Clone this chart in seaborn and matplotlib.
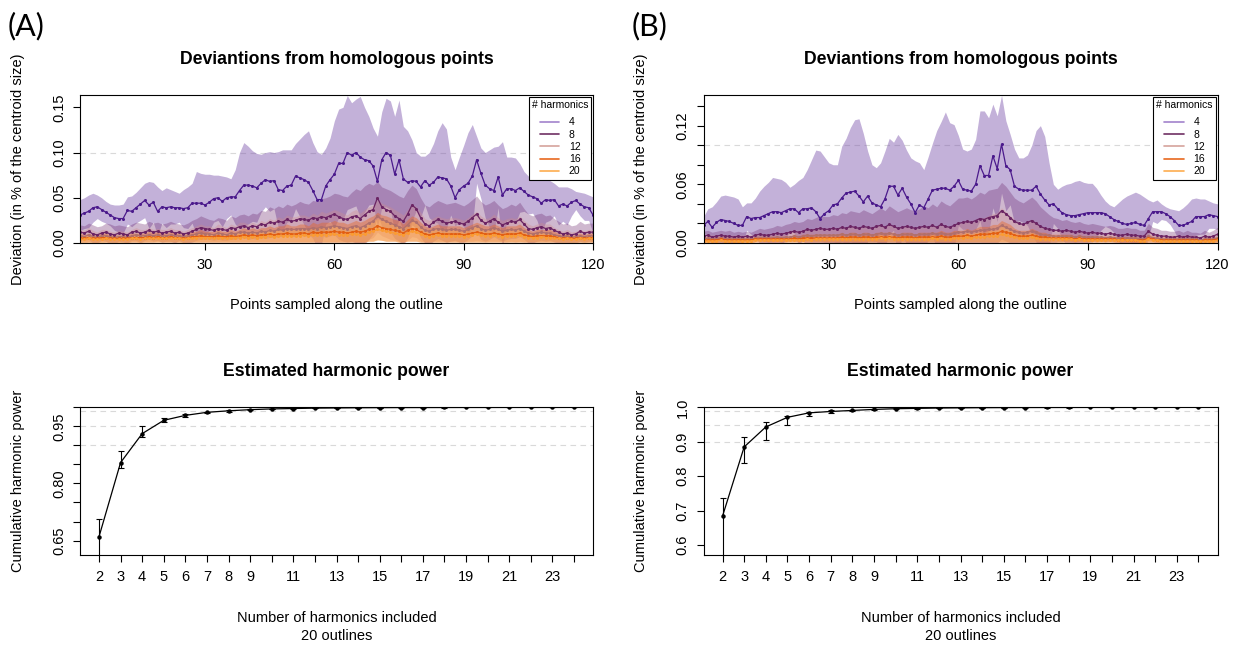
import numpy as np
import matplotlib
matplotlib.use("Agg")
import matplotlib.pyplot as plt
from matplotlib.lines import Line2D
import seaborn as sns

# ---------------- data ----------------
points = list(range(1, 121))
harmonic_levels = ["4", "8", "12", "16", "20"]

# Panel A: mean deviation and upper band edge (mean + sd) per number of harmonics
a_h4_mean = [
    0.031, 0.033, 0.035, 0.039, 0.040, 0.037, 0.034, 0.031, 0.028, 0.027,
    0.027, 0.036, 0.035, 0.039, 0.043, 0.047, 0.042, 0.045, 0.035, 0.040,
    0.039, 0.040, 0.039, 0.039, 0.038, 0.039, 0.044, 0.044, 0.044, 0.042,
    0.045, 0.049, 0.050, 0.046, 0.050, 0.051, 0.051, 0.058, 0.064, 0.064,
    0.063, 0.061, 0.066, 0.070, 0.068, 0.069, 0.059, 0.058, 0.063, 0.064,
    0.074, 0.072, 0.070, 0.067, 0.058, 0.048, 0.048, 0.063, 0.070, 0.076,
    0.088, 0.088, 0.100, 0.097, 0.100, 0.095, 0.092, 0.091, 0.085, 0.068,
    0.092, 0.100, 0.097, 0.076, 0.092, 0.071, 0.067, 0.069, 0.068, 0.062,
    0.069, 0.064, 0.067, 0.073, 0.072, 0.071, 0.063, 0.050, 0.059, 0.063,
    0.066, 0.074, 0.092, 0.077, 0.064, 0.060, 0.058, 0.073, 0.053, 0.060,
    0.060, 0.058, 0.061, 0.057, 0.053, 0.051, 0.049, 0.044, 0.048, 0.047,
    0.048, 0.041, 0.043, 0.041, 0.045, 0.047, 0.043, 0.040, 0.039, 0.031]
a_h4_upper = [
    0.048, 0.050, 0.053, 0.055, 0.053, 0.050, 0.046, 0.043, 0.042, 0.042,
    0.043, 0.051, 0.052, 0.056, 0.061, 0.066, 0.068, 0.067, 0.062, 0.058,
    0.061, 0.059, 0.057, 0.055, 0.059, 0.062, 0.066, 0.079, 0.077, 0.076,
    0.076, 0.075, 0.075, 0.074, 0.073, 0.071, 0.081, 0.100, 0.111, 0.107,
    0.102, 0.099, 0.098, 0.100, 0.101, 0.100, 0.101, 0.103, 0.103, 0.103,
    0.110, 0.115, 0.120, 0.124, 0.111, 0.101, 0.098, 0.105, 0.116, 0.135,
    0.148, 0.150, 0.163, 0.155, 0.159, 0.162, 0.150, 0.140, 0.127, 0.118,
    0.145, 0.160, 0.157, 0.140, 0.158, 0.129, 0.124, 0.114, 0.100, 0.096,
    0.096, 0.100, 0.110, 0.124, 0.133, 0.126, 0.095, 0.081, 0.095, 0.108,
    0.122, 0.131, 0.118, 0.105, 0.100, 0.103, 0.106, 0.107, 0.112, 0.095,
    0.095, 0.094, 0.088, 0.079, 0.074, 0.069, 0.073, 0.077, 0.073, 0.069,
    0.066, 0.062, 0.062, 0.062, 0.060, 0.057, 0.056, 0.055, 0.053, 0.051]
a_h8_mean = [
    0.012, 0.011, 0.013, 0.010, 0.009, 0.011, 0.012, 0.010, 0.009, 0.011,
    0.010, 0.009, 0.012, 0.013, 0.011, 0.012, 0.014, 0.012, 0.013, 0.011,
    0.012, 0.013, 0.011, 0.012, 0.010, 0.011, 0.013, 0.015, 0.017, 0.016,
    0.015, 0.014, 0.016, 0.015, 0.014, 0.017, 0.016, 0.018, 0.019, 0.017,
    0.019, 0.018, 0.021, 0.020, 0.023, 0.022, 0.024, 0.023, 0.026, 0.024,
    0.025, 0.027, 0.026, 0.025, 0.028, 0.027, 0.029, 0.028, 0.030, 0.032,
    0.029, 0.027, 0.026, 0.029, 0.030, 0.027, 0.031, 0.035, 0.037, 0.050,
    0.040, 0.037, 0.035, 0.030, 0.027, 0.024, 0.032, 0.042, 0.038, 0.028,
    0.021, 0.019, 0.023, 0.026, 0.024, 0.022, 0.023, 0.024, 0.022, 0.021,
    0.024, 0.028, 0.032, 0.025, 0.022, 0.024, 0.027, 0.023, 0.020, 0.022,
    0.024, 0.023, 0.026, 0.021, 0.016, 0.015, 0.017, 0.018, 0.016, 0.017,
    0.014, 0.012, 0.010, 0.011, 0.009, 0.010, 0.013, 0.011, 0.012, 0.012]
a_h8_upper = [
    0.020, 0.019, 0.022, 0.020, 0.018, 0.019, 0.022, 0.021, 0.019, 0.020,
    0.019, 0.018, 0.021, 0.023, 0.022, 0.021, 0.024, 0.022, 0.023, 0.021,
    0.022, 0.024, 0.022, 0.021, 0.020, 0.022, 0.025, 0.027, 0.030, 0.028,
    0.026, 0.025, 0.028, 0.027, 0.025, 0.030, 0.028, 0.031, 0.032, 0.030,
    0.033, 0.032, 0.036, 0.035, 0.040, 0.038, 0.041, 0.039, 0.043, 0.041,
    0.043, 0.046, 0.044, 0.043, 0.047, 0.046, 0.049, 0.050, 0.052, 0.055,
    0.054, 0.052, 0.051, 0.056, 0.060, 0.058, 0.063, 0.066, 0.064, 0.068,
    0.062, 0.060, 0.058, 0.055, 0.052, 0.050, 0.058, 0.064, 0.060, 0.050,
    0.042, 0.040, 0.044, 0.047, 0.045, 0.043, 0.044, 0.045, 0.043, 0.041,
    0.044, 0.048, 0.052, 0.046, 0.042, 0.044, 0.047, 0.042, 0.038, 0.040,
    0.043, 0.041, 0.045, 0.038, 0.032, 0.030, 0.032, 0.033, 0.030, 0.031,
    0.027, 0.024, 0.021, 0.022, 0.019, 0.020, 0.024, 0.021, 0.022, 0.022]
a_h12_mean = [
    0.008, 0.007, 0.009, 0.007, 0.006, 0.008, 0.008, 0.007, 0.006, 0.007,
    0.007, 0.006, 0.008, 0.009, 0.008, 0.008, 0.009, 0.008, 0.009, 0.008,
    0.008, 0.009, 0.008, 0.008, 0.007, 0.008, 0.009, 0.010, 0.011, 0.010,
    0.010, 0.009, 0.011, 0.010, 0.009, 0.011, 0.010, 0.012, 0.012, 0.011,
    0.012, 0.011, 0.013, 0.012, 0.014, 0.013, 0.015, 0.014, 0.016, 0.015,
    0.015, 0.016, 0.016, 0.015, 0.017, 0.016, 0.018, 0.017, 0.018, 0.019,
    0.018, 0.017, 0.016, 0.018, 0.019, 0.017, 0.019, 0.022, 0.024, 0.030,
    0.026, 0.024, 0.022, 0.020, 0.018, 0.016, 0.020, 0.025, 0.023, 0.018,
    0.014, 0.013, 0.015, 0.016, 0.015, 0.014, 0.015, 0.015, 0.014, 0.013,
    0.015, 0.017, 0.019, 0.016, 0.014, 0.015, 0.017, 0.015, 0.013, 0.014,
    0.015, 0.014, 0.016, 0.013, 0.011, 0.010, 0.011, 0.012, 0.011, 0.011,
    0.009, 0.008, 0.007, 0.008, 0.006, 0.007, 0.008, 0.007, 0.008, 0.008]
a_h12_upper = [
    0.015, 0.014, 0.017, 0.014, 0.012, 0.015, 0.015, 0.013, 0.012, 0.014,
    0.013, 0.012, 0.015, 0.017, 0.015, 0.015, 0.017, 0.015, 0.016, 0.015,
    0.015, 0.017, 0.015, 0.015, 0.013, 0.015, 0.017, 0.019, 0.021, 0.019,
    0.019, 0.017, 0.021, 0.019, 0.017, 0.021, 0.019, 0.023, 0.023, 0.021,
    0.023, 0.021, 0.025, 0.023, 0.027, 0.025, 0.029, 0.027, 0.031, 0.029,
    0.029, 0.031, 0.031, 0.029, 0.033, 0.031, 0.035, 0.033, 0.035, 0.037,
    0.035, 0.033, 0.031, 0.035, 0.037, 0.033, 0.037, 0.040, 0.042, 0.048,
    0.044, 0.042, 0.040, 0.037, 0.034, 0.031, 0.037, 0.043, 0.040, 0.034,
    0.027, 0.025, 0.028, 0.030, 0.028, 0.027, 0.028, 0.028, 0.027, 0.025,
    0.028, 0.032, 0.035, 0.030, 0.027, 0.028, 0.032, 0.028, 0.025, 0.027,
    0.028, 0.027, 0.030, 0.025, 0.021, 0.019, 0.021, 0.023, 0.021, 0.021,
    0.017, 0.015, 0.013, 0.015, 0.012, 0.013, 0.015, 0.013, 0.015, 0.015]
a_h16_mean = [
    0.006, 0.005, 0.006, 0.005, 0.005, 0.006, 0.006, 0.005, 0.005, 0.005,
    0.005, 0.005, 0.006, 0.006, 0.006, 0.006, 0.007, 0.006, 0.007, 0.006,
    0.006, 0.007, 0.006, 0.006, 0.005, 0.006, 0.007, 0.007, 0.008, 0.007,
    0.007, 0.007, 0.008, 0.007, 0.007, 0.008, 0.007, 0.008, 0.009, 0.008,
    0.009, 0.008, 0.009, 0.009, 0.010, 0.009, 0.010, 0.010, 0.011, 0.010,
    0.010, 0.011, 0.011, 0.010, 0.012, 0.011, 0.012, 0.012, 0.012, 0.013,
    0.012, 0.012, 0.011, 0.012, 0.013, 0.012, 0.013, 0.015, 0.016, 0.019,
    0.017, 0.016, 0.015, 0.014, 0.013, 0.011, 0.014, 0.016, 0.015, 0.012,
    0.010, 0.009, 0.010, 0.011, 0.010, 0.010, 0.010, 0.010, 0.010, 0.009,
    0.010, 0.011, 0.012, 0.011, 0.010, 0.010, 0.011, 0.010, 0.009, 0.010,
    0.010, 0.010, 0.011, 0.009, 0.008, 0.007, 0.008, 0.008, 0.008, 0.008,
    0.007, 0.006, 0.005, 0.006, 0.005, 0.005, 0.006, 0.005, 0.006, 0.006]
a_h16_upper = [
    0.011, 0.009, 0.011, 0.009, 0.009, 0.011, 0.011, 0.009, 0.009, 0.009,
    0.009, 0.009, 0.011, 0.011, 0.011, 0.011, 0.013, 0.011, 0.013, 0.011,
    0.011, 0.013, 0.011, 0.011, 0.009, 0.011, 0.013, 0.013, 0.015, 0.013,
    0.013, 0.013, 0.015, 0.013, 0.013, 0.015, 0.013, 0.015, 0.017, 0.015,
    0.017, 0.015, 0.017, 0.017, 0.019, 0.017, 0.019, 0.019, 0.021, 0.019,
    0.019, 0.021, 0.021, 0.019, 0.023, 0.021, 0.023, 0.023, 0.023, 0.025,
    0.023, 0.023, 0.021, 0.023, 0.025, 0.023, 0.025, 0.028, 0.030, 0.034,
    0.031, 0.030, 0.028, 0.026, 0.025, 0.021, 0.026, 0.030, 0.028, 0.023,
    0.019, 0.017, 0.019, 0.021, 0.019, 0.019, 0.019, 0.019, 0.019, 0.017,
    0.019, 0.021, 0.023, 0.021, 0.019, 0.019, 0.021, 0.019, 0.017, 0.019,
    0.019, 0.019, 0.021, 0.017, 0.015, 0.013, 0.015, 0.015, 0.015, 0.015,
    0.013, 0.011, 0.009, 0.011, 0.009, 0.009, 0.011, 0.009, 0.011, 0.011]
a_h20_mean = [
    0.004, 0.004, 0.005, 0.004, 0.004, 0.004, 0.005, 0.004, 0.004, 0.004,
    0.004, 0.004, 0.005, 0.005, 0.004, 0.005, 0.005, 0.005, 0.005, 0.005,
    0.005, 0.005, 0.005, 0.005, 0.004, 0.005, 0.005, 0.006, 0.006, 0.006,
    0.006, 0.005, 0.006, 0.006, 0.005, 0.006, 0.006, 0.006, 0.007, 0.006,
    0.007, 0.006, 0.007, 0.007, 0.008, 0.007, 0.008, 0.008, 0.008, 0.008,
    0.008, 0.008, 0.009, 0.008, 0.009, 0.009, 0.009, 0.009, 0.010, 0.010,
    0.009, 0.009, 0.009, 0.010, 0.010, 0.009, 0.010, 0.012, 0.013, 0.015,
    0.014, 0.013, 0.012, 0.011, 0.010, 0.009, 0.011, 0.013, 0.012, 0.010,
    0.008, 0.007, 0.008, 0.009, 0.008, 0.008, 0.008, 0.008, 0.008, 0.007,
    0.008, 0.009, 0.010, 0.009, 0.008, 0.008, 0.009, 0.008, 0.007, 0.008,
    0.008, 0.008, 0.009, 0.007, 0.006, 0.006, 0.006, 0.007, 0.006, 0.006,
    0.005, 0.005, 0.004, 0.005, 0.004, 0.004, 0.005, 0.004, 0.005, 0.005]
a_h20_upper = [
    0.008, 0.008, 0.009, 0.008, 0.008, 0.008, 0.009, 0.008, 0.008, 0.008,
    0.008, 0.008, 0.009, 0.009, 0.008, 0.009, 0.009, 0.009, 0.009, 0.009,
    0.009, 0.009, 0.009, 0.009, 0.008, 0.009, 0.009, 0.011, 0.011, 0.011,
    0.011, 0.009, 0.011, 0.011, 0.009, 0.011, 0.011, 0.011, 0.013, 0.011,
    0.013, 0.011, 0.013, 0.013, 0.015, 0.013, 0.015, 0.015, 0.015, 0.015,
    0.015, 0.015, 0.017, 0.015, 0.017, 0.017, 0.017, 0.017, 0.019, 0.019,
    0.017, 0.017, 0.017, 0.019, 0.019, 0.017, 0.019, 0.022, 0.024, 0.027,
    0.025, 0.024, 0.022, 0.020, 0.019, 0.017, 0.020, 0.024, 0.022, 0.019,
    0.015, 0.013, 0.015, 0.017, 0.015, 0.015, 0.015, 0.015, 0.015, 0.013,
    0.015, 0.017, 0.019, 0.017, 0.015, 0.015, 0.017, 0.015, 0.013, 0.015,
    0.015, 0.015, 0.017, 0.013, 0.011, 0.011, 0.011, 0.013, 0.011, 0.011,
    0.009, 0.009, 0.008, 0.009, 0.008, 0.008, 0.009, 0.008, 0.009, 0.009]

# Panel B
b_h4_mean = [
    0.018, 0.022, 0.016, 0.021, 0.024, 0.023, 0.022, 0.020, 0.018, 0.018,
    0.027, 0.025, 0.026, 0.026, 0.028, 0.030, 0.032, 0.032, 0.031, 0.033,
    0.035, 0.035, 0.031, 0.035, 0.035, 0.036, 0.032, 0.025, 0.030, 0.033,
    0.039, 0.040, 0.046, 0.051, 0.052, 0.053, 0.048, 0.042, 0.048, 0.041,
    0.039, 0.037, 0.045, 0.058, 0.058, 0.049, 0.056, 0.047, 0.040, 0.031,
    0.039, 0.036, 0.045, 0.054, 0.055, 0.056, 0.056, 0.054, 0.058, 0.064,
    0.055, 0.054, 0.053, 0.060, 0.079, 0.069, 0.069, 0.089, 0.076, 0.101,
    0.079, 0.075, 0.058, 0.055, 0.054, 0.054, 0.054, 0.058, 0.050, 0.044,
    0.039, 0.040, 0.035, 0.031, 0.029, 0.028, 0.028, 0.029, 0.030, 0.031,
    0.031, 0.031, 0.031, 0.030, 0.027, 0.024, 0.022, 0.020, 0.019, 0.020,
    0.021, 0.019, 0.018, 0.025, 0.032, 0.032, 0.032, 0.030, 0.027, 0.023,
    0.018, 0.018, 0.020, 0.022, 0.027, 0.027, 0.027, 0.029, 0.028, 0.027]
b_h4_upper = [
    0.027, 0.035, 0.037, 0.042, 0.048, 0.049, 0.048, 0.047, 0.045, 0.037,
    0.041, 0.041, 0.046, 0.053, 0.058, 0.062, 0.067, 0.066, 0.065, 0.062,
    0.057, 0.060, 0.064, 0.067, 0.075, 0.085, 0.095, 0.094, 0.088, 0.082,
    0.080, 0.080, 0.099, 0.107, 0.118, 0.126, 0.127, 0.112, 0.094, 0.080,
    0.077, 0.082, 0.094, 0.107, 0.103, 0.111, 0.105, 0.095, 0.087, 0.084,
    0.082, 0.075, 0.088, 0.102, 0.115, 0.124, 0.134, 0.123, 0.121, 0.110,
    0.096, 0.094, 0.096, 0.106, 0.135, 0.135, 0.128, 0.142, 0.130, 0.151,
    0.125, 0.111, 0.096, 0.087, 0.087, 0.090, 0.100, 0.115, 0.120, 0.109,
    0.082, 0.060, 0.055, 0.058, 0.060, 0.061, 0.063, 0.064, 0.062, 0.061,
    0.061, 0.056, 0.049, 0.043, 0.039, 0.037, 0.041, 0.045, 0.048, 0.050,
    0.052, 0.050, 0.047, 0.044, 0.042, 0.044, 0.040, 0.037, 0.035, 0.034,
    0.033, 0.036, 0.040, 0.045, 0.046, 0.045, 0.045, 0.043, 0.041, 0.040]
b_h8_mean = [
    0.007, 0.008, 0.006, 0.007, 0.008, 0.007, 0.007, 0.006, 0.007, 0.006,
    0.007, 0.006, 0.008, 0.009, 0.008, 0.008, 0.009, 0.010, 0.009, 0.010,
    0.011, 0.012, 0.011, 0.012, 0.014, 0.013, 0.014, 0.015, 0.014, 0.014,
    0.015, 0.014, 0.016, 0.015, 0.017, 0.016, 0.015, 0.017, 0.016, 0.015,
    0.017, 0.018, 0.016, 0.019, 0.017, 0.015, 0.016, 0.017, 0.016, 0.015,
    0.016, 0.017, 0.016, 0.018, 0.016, 0.019, 0.017, 0.016, 0.018, 0.020,
    0.021, 0.022, 0.021, 0.023, 0.025, 0.024, 0.026, 0.027, 0.028, 0.033,
    0.030, 0.026, 0.022, 0.020, 0.019, 0.021, 0.023, 0.020, 0.017, 0.015,
    0.014, 0.013, 0.013, 0.012, 0.013, 0.012, 0.011, 0.012, 0.011, 0.010,
    0.011, 0.010, 0.010, 0.009, 0.010, 0.009, 0.008, 0.008, 0.009, 0.008,
    0.008, 0.007, 0.007, 0.012, 0.009, 0.008, 0.007, 0.007, 0.006, 0.006,
    0.007, 0.006, 0.007, 0.006, 0.006, 0.005, 0.007, 0.006, 0.007, 0.009]
b_h8_upper = [
    0.012, 0.013, 0.011, 0.012, 0.013, 0.012, 0.013, 0.011, 0.012, 0.011,
    0.012, 0.011, 0.013, 0.015, 0.014, 0.015, 0.016, 0.018, 0.017, 0.019,
    0.020, 0.022, 0.021, 0.022, 0.025, 0.024, 0.026, 0.028, 0.027, 0.027,
    0.029, 0.028, 0.031, 0.030, 0.033, 0.032, 0.031, 0.034, 0.032, 0.030,
    0.033, 0.036, 0.033, 0.038, 0.035, 0.032, 0.034, 0.036, 0.034, 0.033,
    0.035, 0.038, 0.036, 0.040, 0.037, 0.043, 0.040, 0.038, 0.042, 0.046,
    0.046, 0.047, 0.045, 0.048, 0.052, 0.050, 0.054, 0.055, 0.056, 0.062,
    0.058, 0.052, 0.046, 0.043, 0.041, 0.044, 0.047, 0.043, 0.037, 0.033,
    0.029, 0.026, 0.025, 0.023, 0.024, 0.022, 0.021, 0.022, 0.020, 0.019,
    0.020, 0.019, 0.018, 0.017, 0.018, 0.017, 0.015, 0.015, 0.016, 0.015,
    0.015, 0.013, 0.013, 0.020, 0.016, 0.015, 0.013, 0.013, 0.012, 0.012,
    0.013, 0.011, 0.013, 0.011, 0.011, 0.010, 0.013, 0.011, 0.013, 0.016]
b_h12_mean = [
    0.004, 0.005, 0.004, 0.004, 0.005, 0.004, 0.004, 0.004, 0.004, 0.004,
    0.004, 0.004, 0.005, 0.005, 0.005, 0.005, 0.005, 0.006, 0.005, 0.006,
    0.006, 0.007, 0.006, 0.007, 0.008, 0.007, 0.008, 0.008, 0.008, 0.008,
    0.008, 0.008, 0.009, 0.008, 0.009, 0.009, 0.008, 0.009, 0.009, 0.008,
    0.009, 0.010, 0.009, 0.010, 0.009, 0.008, 0.009, 0.009, 0.009, 0.008,
    0.009, 0.009, 0.009, 0.010, 0.009, 0.010, 0.009, 0.009, 0.010, 0.011,
    0.011, 0.012, 0.011, 0.012, 0.013, 0.013, 0.014, 0.014, 0.015, 0.018,
    0.016, 0.014, 0.012, 0.011, 0.010, 0.011, 0.012, 0.011, 0.009, 0.008,
    0.008, 0.007, 0.007, 0.007, 0.007, 0.007, 0.006, 0.007, 0.006, 0.006,
    0.006, 0.006, 0.006, 0.005, 0.006, 0.005, 0.005, 0.005, 0.005, 0.005,
    0.005, 0.004, 0.004, 0.007, 0.005, 0.005, 0.004, 0.004, 0.004, 0.004,
    0.004, 0.004, 0.004, 0.004, 0.004, 0.003, 0.004, 0.004, 0.004, 0.005]
b_h12_upper = [
    0.008, 0.009, 0.008, 0.008, 0.009, 0.008, 0.008, 0.008, 0.008, 0.008,
    0.008, 0.008, 0.009, 0.009, 0.009, 0.009, 0.010, 0.011, 0.010, 0.011,
    0.011, 0.013, 0.011, 0.013, 0.015, 0.013, 0.015, 0.015, 0.015, 0.015,
    0.015, 0.015, 0.017, 0.015, 0.017, 0.017, 0.015, 0.017, 0.017, 0.015,
    0.017, 0.019, 0.017, 0.019, 0.017, 0.015, 0.017, 0.017, 0.017, 0.015,
    0.017, 0.017, 0.017, 0.019, 0.017, 0.019, 0.017, 0.017, 0.019, 0.021,
    0.021, 0.023, 0.021, 0.023, 0.025, 0.026, 0.028, 0.030, 0.031, 0.036,
    0.032, 0.028, 0.024, 0.021, 0.019, 0.021, 0.023, 0.021, 0.017, 0.015,
    0.015, 0.013, 0.013, 0.013, 0.013, 0.013, 0.011, 0.013, 0.011, 0.011,
    0.011, 0.011, 0.011, 0.009, 0.011, 0.009, 0.009, 0.009, 0.009, 0.009,
    0.009, 0.008, 0.008, 0.014, 0.010, 0.009, 0.008, 0.008, 0.008, 0.008,
    0.008, 0.008, 0.008, 0.008, 0.008, 0.006, 0.008, 0.008, 0.008, 0.010]
b_h16_mean = [
    0.003, 0.003, 0.003, 0.003, 0.004, 0.003, 0.003, 0.003, 0.003, 0.003,
    0.003, 0.003, 0.004, 0.004, 0.004, 0.004, 0.004, 0.004, 0.004, 0.004,
    0.004, 0.005, 0.004, 0.005, 0.005, 0.005, 0.005, 0.005, 0.005, 0.005,
    0.005, 0.005, 0.006, 0.005, 0.006, 0.006, 0.005, 0.006, 0.006, 0.005,
    0.006, 0.006, 0.006, 0.006, 0.006, 0.005, 0.006, 0.006, 0.006, 0.005,
    0.006, 0.006, 0.006, 0.006, 0.006, 0.007, 0.006, 0.006, 0.007, 0.007,
    0.007, 0.008, 0.007, 0.008, 0.009, 0.009, 0.009, 0.010, 0.010, 0.012,
    0.011, 0.010, 0.008, 0.007, 0.007, 0.007, 0.008, 0.007, 0.006, 0.006,
    0.005, 0.005, 0.005, 0.005, 0.005, 0.005, 0.004, 0.005, 0.004, 0.004,
    0.004, 0.004, 0.004, 0.004, 0.004, 0.004, 0.003, 0.004, 0.003, 0.003,
    0.003, 0.003, 0.003, 0.005, 0.004, 0.003, 0.003, 0.003, 0.003, 0.003,
    0.003, 0.003, 0.003, 0.003, 0.003, 0.002, 0.003, 0.003, 0.003, 0.004]
b_h16_upper = [
    0.006, 0.006, 0.006, 0.006, 0.007, 0.006, 0.006, 0.006, 0.006, 0.006,
    0.006, 0.006, 0.007, 0.007, 0.007, 0.007, 0.007, 0.007, 0.007, 0.007,
    0.007, 0.009, 0.007, 0.009, 0.009, 0.009, 0.009, 0.009, 0.009, 0.009,
    0.009, 0.009, 0.011, 0.009, 0.011, 0.011, 0.009, 0.011, 0.011, 0.009,
    0.011, 0.011, 0.011, 0.011, 0.011, 0.009, 0.011, 0.011, 0.011, 0.009,
    0.011, 0.011, 0.011, 0.011, 0.011, 0.013, 0.011, 0.011, 0.013, 0.013,
    0.013, 0.015, 0.013, 0.015, 0.017, 0.017, 0.017, 0.019, 0.019, 0.023,
    0.021, 0.019, 0.015, 0.013, 0.013, 0.013, 0.015, 0.013, 0.011, 0.011,
    0.009, 0.009, 0.009, 0.009, 0.009, 0.009, 0.007, 0.009, 0.007, 0.007,
    0.007, 0.007, 0.007, 0.007, 0.007, 0.007, 0.006, 0.007, 0.006, 0.006,
    0.006, 0.006, 0.006, 0.009, 0.007, 0.006, 0.006, 0.006, 0.006, 0.006,
    0.006, 0.006, 0.006, 0.006, 0.006, 0.004, 0.006, 0.006, 0.006, 0.007]
b_h20_mean = [
    0.002, 0.002, 0.002, 0.002, 0.003, 0.002, 0.002, 0.002, 0.002, 0.002,
    0.002, 0.002, 0.003, 0.003, 0.003, 0.003, 0.003, 0.003, 0.003, 0.003,
    0.003, 0.003, 0.003, 0.003, 0.004, 0.003, 0.004, 0.004, 0.004, 0.004,
    0.004, 0.004, 0.004, 0.004, 0.004, 0.004, 0.004, 0.004, 0.004, 0.004,
    0.004, 0.005, 0.004, 0.005, 0.004, 0.004, 0.004, 0.004, 0.004, 0.004,
    0.004, 0.004, 0.004, 0.005, 0.004, 0.005, 0.004, 0.004, 0.005, 0.005,
    0.005, 0.006, 0.005, 0.006, 0.006, 0.006, 0.007, 0.007, 0.007, 0.009,
    0.008, 0.007, 0.006, 0.005, 0.005, 0.005, 0.006, 0.005, 0.004, 0.004,
    0.004, 0.004, 0.004, 0.004, 0.004, 0.004, 0.003, 0.004, 0.003, 0.003,
    0.003, 0.003, 0.003, 0.003, 0.003, 0.003, 0.003, 0.003, 0.003, 0.003,
    0.003, 0.002, 0.002, 0.004, 0.003, 0.003, 0.002, 0.002, 0.002, 0.002,
    0.002, 0.002, 0.002, 0.002, 0.002, 0.002, 0.002, 0.002, 0.002, 0.003]
b_h20_upper = [
    0.004, 0.004, 0.004, 0.004, 0.005, 0.004, 0.004, 0.004, 0.004, 0.004,
    0.004, 0.004, 0.005, 0.005, 0.005, 0.005, 0.005, 0.005, 0.005, 0.005,
    0.005, 0.005, 0.005, 0.005, 0.007, 0.005, 0.007, 0.007, 0.007, 0.007,
    0.007, 0.007, 0.007, 0.007, 0.007, 0.007, 0.007, 0.007, 0.007, 0.007,
    0.007, 0.009, 0.007, 0.009, 0.007, 0.007, 0.007, 0.007, 0.007, 0.007,
    0.007, 0.007, 0.007, 0.009, 0.007, 0.009, 0.007, 0.007, 0.009, 0.009,
    0.009, 0.011, 0.009, 0.011, 0.011, 0.011, 0.013, 0.013, 0.013, 0.017,
    0.015, 0.013, 0.011, 0.009, 0.009, 0.009, 0.011, 0.009, 0.007, 0.007,
    0.007, 0.007, 0.007, 0.007, 0.007, 0.007, 0.005, 0.007, 0.005, 0.005,
    0.005, 0.005, 0.005, 0.005, 0.005, 0.005, 0.005, 0.005, 0.005, 0.005,
    0.005, 0.004, 0.004, 0.007, 0.005, 0.005, 0.004, 0.004, 0.004, 0.004,
    0.004, 0.004, 0.004, 0.004, 0.004, 0.004, 0.004, 0.004, 0.004, 0.005]

# Harmonic power (bottom panels)
harmonics = list(range(2, 25))
a_power_mean = [0.660, 0.855, 0.931, 0.966, 0.979, 0.987, 0.991, 0.994, 0.996, 0.997,
                0.998, 0.9985, 0.999, 0.9993, 0.9995, 0.9996, 0.9997, 0.9998, 0.9998,
                0.9999, 0.9999, 0.9999, 1.000]
a_power_lo = [0.600, 0.841, 0.923, 0.961, 0.975, 0.984, 0.989, 0.993, 0.995, 0.9965,
              0.9975, 0.998, 0.9987, 0.9991, 0.9993, 0.9995, 0.9996, 0.9997, 0.9997,
              0.9998, 0.9998, 0.9998, 0.9999]
a_power_hi = [0.706, 0.885, 0.952, 0.971, 0.983, 0.989, 0.993, 0.995, 0.997, 0.9975,
              0.9985, 0.999, 0.9993, 0.9995, 0.9997, 0.9997, 0.9998, 0.9999, 0.9999,
              1.000, 1.000, 1.000, 1.000]
b_power_mean = [0.684, 0.885, 0.943, 0.971, 0.984, 0.988, 0.991, 0.994, 0.996, 0.997,
                0.998, 0.9985, 0.999, 0.9993, 0.9995, 0.9996, 0.9997, 0.9998, 0.9998,
                0.9999, 0.9999, 0.9999, 1.000]
b_power_lo = [0.550, 0.837, 0.906, 0.950, 0.974, 0.983, 0.988, 0.992, 0.995, 0.996,
              0.997, 0.998, 0.9985, 0.999, 0.9993, 0.9994, 0.9995, 0.9996, 0.9997,
              0.9998, 0.9998, 0.9998, 0.9999]
b_power_hi = [0.736, 0.914, 0.956, 0.976, 0.987, 0.991, 0.993, 0.996, 0.997, 0.998,
              0.9985, 0.999, 0.9993, 0.9995, 0.9997, 0.9997, 0.9998, 0.9999, 0.9999,
              1.000, 1.000, 1.000, 1.000]

# ---------------- style ----------------
sns.set_theme(style="white")
plt.rcParams["font.family"] = ["Liberation Sans", "DejaVu Sans"]
plt.rcParams["axes.edgecolor"] = "black"
plt.rcParams["axes.linewidth"] = 0.8
plt.rcParams["text.color"] = "black"
plt.rcParams["axes.labelcolor"] = "black"
plt.rcParams["xtick.color"] = "black"
plt.rcParams["ytick.color"] = "black"
plt.rcParams["legend.edgecolor"] = "black"

band_colors = ["#7b52ab", "#6e2a6e", "#d08c8c", "#e8641e", "#fdae52"]
band_alphas = [0.45, 0.33, 0.35, 0.40, 0.45]
line_colors = ["#4b1a8c", "#6b2463", "#b0706c", "#e35f12", "#fb9c33"]
legend_colors = ["#a283cc", "#6f3063", "#d6a39c", "#e8681f", "#fdad4f"]

W, H = 1238, 647
fig = plt.figure(figsize=(W / 100, H / 100), dpi=100)


def px_axes(left, top, right, bottom):
    return fig.add_axes([left / W, 1 - bottom / H, (right - left) / W, (bottom - top) / H])


def style_axes(ax):
    for s in ax.spines.values():
        s.set_visible(True)
        s.set_color("black")
        s.set_linewidth(0.8)
    ax.tick_params(axis="both", direction="out", length=5, width=0.8, colors="black",
                   labelcolor="black", labelsize=10.5, bottom=True, left=True)
    ax.tick_params(axis="x", pad=6)
    ax.tick_params(axis="y", pad=5, labelrotation=90)
    for t in ax.get_yticklabels():
        t.set_va("center")
    ax.set_xlabel("")
    ax.set_ylabel("")


def top_panel(ax, means, uppers, ymax, yticks, ylabels):
    ax.axhline(0.10, color="#d9d9d9", lw=0.8, ls=(0, (5, 4)), zorder=0)
    for m, u, bc, ba, lc in zip(means, uppers, band_colors, band_alphas, line_colors):
        m = np.asarray(m)
        u = np.asarray(u)
        spread = u - m
        ax.fill_between(points, m - spread, u, color=bc, alpha=ba, lw=0, zorder=1)
        sns.lineplot(x=points, y=m, ax=ax, color=lc, lw=0.9, marker="o",
                     markersize=2.2, markeredgewidth=0, zorder=2)
    ax.set_xlim(1, 120)
    ax.set_ylim(0, ymax)
    ax.set_xticks([30, 60, 90, 120])
    ax.set_yticks(yticks, ylabels)
    style_axes(ax)
    handles = [Line2D([0], [0], color=c, lw=1.2) for c in legend_colors]
    leg = ax.legend(handles, harmonic_levels, title="# harmonics", loc="upper right",
                    fontsize=7.5, title_fontsize=7.5, frameon=True, fancybox=False,
                    edgecolor="black", framealpha=1, borderpad=0.3, handlelength=1.9,
                    handletextpad=0.9, labelspacing=0.22, borderaxespad=0.15)
    leg.get_frame().set_linewidth(0.8)
    leg.get_title().set_color("black")
    for t in leg.get_texts():
        t.set_color("black")
    leg._legend_box.sep = 5.5


def bottom_panel(ax, mean, lo, hi, ylim, yticks, ylabels):
    for yv in [0.90, 0.95, 0.99]:
        ax.axhline(yv, color="#d9d9d9", lw=0.8, ls=(0, (5, 4)), zorder=0)
    mean = np.asarray(mean)
    lo = np.asarray(lo)
    hi = np.asarray(hi)
    ax.errorbar(harmonics, mean, yerr=[mean - lo, hi - mean], fmt="none", ecolor="black",
                elinewidth=0.8, capsize=2.2, capthick=0.8, zorder=2)
    sns.lineplot(x=harmonics, y=mean, ax=ax, color="black", lw=0.9, marker="o",
                 markersize=3.2, markeredgewidth=0, zorder=3)
    ax.set_xlim(1.12, 24.88)
    ax.set_ylim(*ylim)
    xt_labels = [str(h) if (h < 10 or h % 2 == 1) else "" for h in harmonics]
    ax.set_xticks(harmonics, xt_labels)
    ax.set_yticks(yticks, ylabels)
    style_axes(ax)


# ---- top panels ----
axA = px_axes(80, 95, 593, 243)
top_panel(axA, [a_h4_mean, a_h8_mean, a_h12_mean, a_h16_mean, a_h20_mean],
          [a_h4_upper, a_h8_upper, a_h12_upper, a_h16_upper, a_h20_upper],
          0.1636, [0, 0.05, 0.10, 0.15], ["0.00", "0.05", "0.10", "0.15"])

axB = px_axes(703.5, 95, 1217.5, 243)
b_ticks = [0, 0.02, 0.04, 0.06, 0.08, 0.10, 0.12, 0.14]
b_labels = ["0.00", "", "", "0.06", "", "", "0.12", ""]
top_panel(axB, [b_h4_mean, b_h8_mean, b_h12_mean, b_h16_mean, b_h20_mean],
          [b_h4_upper, b_h8_upper, b_h12_upper, b_h16_upper, b_h20_upper],
          0.1513, b_ticks, b_labels)

# ---- bottom panels ----
axC = px_axes(80, 407, 593, 555)
c_ticks = [0.65, 0.70, 0.75, 0.80, 0.85, 0.90, 0.95, 1.00]
c_labels = ["0.65", "", "", "0.80", "", "", "0.95", ""]
bottom_panel(axC, a_power_mean, a_power_lo, a_power_hi, (0.612, 1.001), c_ticks, c_labels)

axD = px_axes(703.5, 407, 1217.5, 555)
bottom_panel(axD, b_power_mean, b_power_lo, b_power_hi, (0.571, 1.001),
             [0.6, 0.7, 0.8, 0.9, 1.0], ["0.6", "0.7", "0.8", "0.9", "1.0"])

# ---- text ----
def ftext(x, y, s, **kw):
    fig.text(x / W, 1 - y / H, s, color="black", **kw)

ftext(8, 26, "(A)", fontsize=22, family=["Lato", "DejaVu Sans"], va="center", ha="left")
ftext(632, 26, "(B)", fontsize=22, family=["Lato", "DejaVu Sans"], va="center", ha="left")

for cx, ylab in [(336.5, 18), (960.5, 641)]:
    ftext(cx, 60, "Deviantions from homologous points", fontsize=12.7, fontweight="bold",
          ha="center", va="center")
    ftext(cx, 305, "Points sampled along the outline", fontsize=10.5, ha="center", va="center")
    ftext(ylab, 169, "Deviation (in % of the centroid size)", fontsize=10.5, rotation=90,
          ha="center", va="center")
    ftext(cx, 371, "Estimated harmonic power", fontsize=12.7, fontweight="bold",
          ha="center", va="center")
    ftext(cx, 618, "Number of harmonics included", fontsize=10.5, ha="center", va="center")
    ftext(cx, 636, "20 outlines", fontsize=10.5, ha="center", va="center")
    ftext(ylab, 481, "Cumulative harmonic power", fontsize=10.5, rotation=90,
          ha="center", va="center")

fig.savefig("out.png", dpi=100, facecolor="white")
